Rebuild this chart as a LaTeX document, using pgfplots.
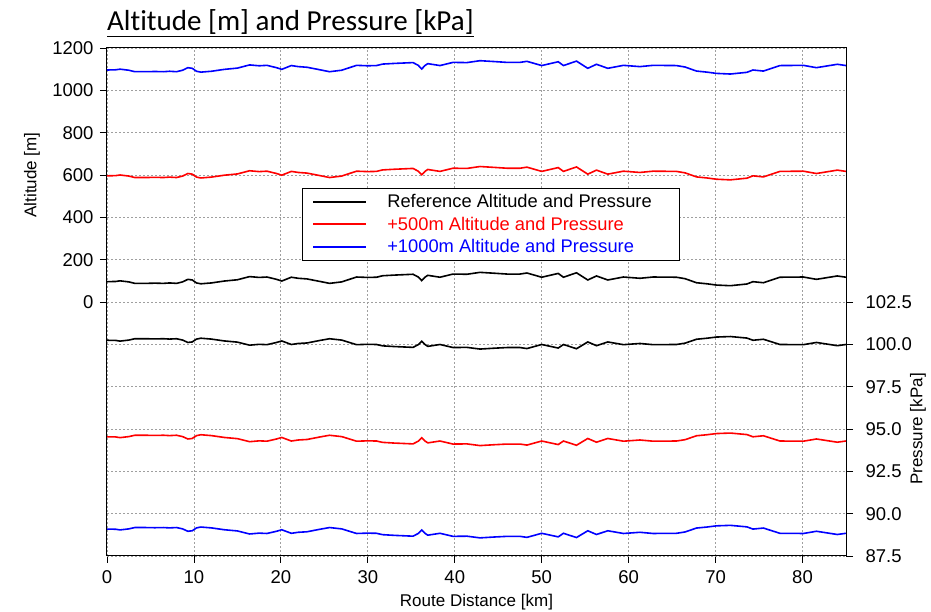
\documentclass[border=0pt]{standalone}
\usepackage{fontspec}
\setmainfont{Liberation Sans}
\newfontfamily\calibri[Ligatures={NoCommon,NoDiscretionary,NoRare,NoContextual}]{Carlito}
\usepackage{pgfplots}
\pgfplotsset{compat=1.18}
\usepackage{pgfplotstable}

\pgfplotstableread{
x h0 h500 h1000 p0 p500 p1000
0 96 596 1096 100.24 94.54 89.09
1 97 597 1097 100.23 94.53 89.08
1.5 100 600 1100 100.19 94.49 89.04
2.5 95 595 1095 100.25 94.55 89.10
3.2 88 588 1088 100.33 94.63 89.18
4.5 88 588 1088 100.33 94.63 89.18
5.5 89 589 1089 100.32 94.62 89.17
6.5 88 588 1088 100.33 94.63 89.18
7.2 90 590 1090 100.31 94.61 89.16
8 88 588 1088 100.33 94.63 89.18
8.7 95 595 1095 100.25 94.55 89.10
9.3 107 607 1107 100.11 94.41 88.96
9.8 104 604 1104 100.14 94.44 88.99
10.3 90 590 1090 100.31 94.61 89.16
10.8 86 586 1086 100.36 94.66 89.21
12 90 590 1090 100.31 94.61 89.16
13.5 99 599 1099 100.20 94.50 89.05
15 105 605 1105 100.13 94.43 88.98
16.4 120 620 1120 99.95 94.25 88.80
17.5 116 616 1116 100.00 94.30 88.85
18.4 118 618 1118 99.98 94.28 88.83
19.5 107 607 1107 100.11 94.41 88.96
20.1 99 599 1099 100.20 94.50 89.05
21.2 117 617 1117 99.99 94.29 88.84
22 112 612 1112 100.05 94.35 88.90
23 109 609 1109 100.08 94.38 88.93
24.5 97 597 1097 100.23 94.53 89.08
25.6 88 588 1088 100.33 94.63 89.18
27 95 595 1095 100.25 94.55 89.10
28.7 118 618 1118 99.98 94.28 88.83
30 116 616 1116 100.00 94.30 88.85
31 117 617 1117 99.99 94.29 88.84
31.7 124 624 1124 99.91 94.21 88.76
33 127 627 1127 99.87 94.17 88.72
35.2 131 631 1131 99.82 94.12 88.67
35.8 118 618 1118 99.98 94.28 88.83
36.2 101 601 1101 100.18 94.48 89.03
36.6 118 618 1118 99.98 94.28 88.83
36.9 126 626 1126 99.88 94.18 88.73
38.3 117 617 1117 99.99 94.29 88.84
39.8 132 632 1132 99.81 94.11 88.66
41.4 131 631 1131 99.82 94.12 88.67
42.9 140 640 1140 99.72 94.02 88.57
44.5 136 636 1136 99.77 94.07 88.62
46 132 632 1132 99.81 94.11 88.66
47.5 132 632 1132 99.81 94.11 88.66
48.3 137 637 1137 99.75 94.05 88.60
50 117 617 1117 99.99 94.29 88.84
51.9 135 635 1135 99.78 94.08 88.63
52.5 117 617 1117 99.99 94.29 88.84
54 138 638 1138 99.74 94.04 88.59
55.3 104 604 1104 100.14 94.44 88.99
56.3 123 623 1123 99.92 94.22 88.77
57.6 104 604 1104 100.14 94.44 88.99
59.4 118 618 1118 99.98 94.28 88.83
61.3 112 612 1112 100.05 94.35 88.90
62.8 118 618 1118 99.98 94.28 88.83
65.5 117 617 1117 99.99 94.29 88.84
66.5 110 610 1110 100.07 94.37 88.92
67.8 91 591 1091 100.30 94.60 89.15
69 86 586 1086 100.36 94.66 89.21
70.1 80 580 1080 100.43 94.73 89.28
71.7 77 577 1077 100.46 94.76 89.31
73.6 85 585 1085 100.37 94.67 89.22
74.3 96 596 1096 100.24 94.54 89.09
75.5 91 591 1091 100.30 94.60 89.15
77.4 117 617 1117 99.99 94.29 88.84
80.1 118 618 1118 99.98 94.28 88.83
81.6 107 607 1107 100.11 94.41 88.96
84 123 623 1123 99.92 94.22 88.77
85 117 617 1117 99.99 94.29 88.84
}\data

\begin{document}
\begin{tikzpicture}[x=1pt,y=1pt]
\useasboundingbox (0,0) rectangle (931,612);
\pgfplotsset{
  common/.style={
    scale only axis, width=739pt, height=508pt,
    at={(107pt,56pt)}, anchor=south west,
    xmin=0, xmax=85,
    tick align=outside, major tick length=7pt,
    tick style={black, line width=0.8pt},
    ticklabel style={font=\fontsize{18.5}{21}\selectfont},
    /pgf/number format/assume math mode=true,
    /pgf/number format/1000 sep={},
    label style={font=\fontsize{17}{20}\selectfont},
    grid style={dash pattern=on 2pt off 2pt, gray!75, line width=0.8pt},
    axis line style={black, line width=1pt},
  }
}
\begin{axis}[common,
  ymin=-1200, ymax=1200,
  ytick={0,200,...,1200},
  xtick={0,10,...,80},
  xtick pos=bottom, ytick pos=left,
  grid=major,
  yticklabel style={xshift=-3pt},
  xticklabel style={yshift=-4pt},
  xlabel={Route Distance [km]}, ylabel={Altitude [m]},
  xlabel style={at={(axis description cs:0.5,-0.0906)}, anchor=center},
  ylabel style={at={(axis description cs:-0.1015,0.75)}, anchor=center},
]
\addplot[black, line width=1.6pt] table[x=x,y=h0]{\data};
\addplot[red, line width=1.6pt] table[x=x,y=h500]{\data};
\addplot[blue, line width=1.6pt] table[x=x,y=h1000]{\data};
\end{axis}
\begin{axis}[common,
  ymin=87.5, ymax=117.5,
  axis y line*=right, axis x line=none,
  ytick={87.5,90,92.5,95,97.5,100,102.5},
  ymajorgrids, xmajorgrids=false,
  yticklabel style={xshift=9pt, /pgf/number format/.cd, fixed, fixed zerofill, precision=1},
  ylabel={Pressure [kPa]},
  ylabel style={at={(axis description cs:1.0974,0.25)}, anchor=center, rotate=0},
  legend style={at={(0.264,0.7244)}, anchor=north west, draw=black,
    font=\fontsize{18.3}{21}\selectfont, inner xsep=10pt, inner ysep=4pt,
    row sep=4pt, column sep=18pt, cells={anchor=west}},
  legend image code/.code={\draw[#1, line width=2pt] (0pt,0pt) -- (53pt,0pt);},
]
\addplot[black, line width=1.6pt] table[x=x,y=p0]{\data};
\addlegendentry{Reference Altitude and Pressure\hspace*{15pt}\mbox{}}
\addplot[red, line width=1.6pt] table[x=x,y=p500]{\data};
\addlegendentry{\textcolor{red}{+500m Altitude and Pressure}}
\addplot[blue, line width=1.6pt] table[x=x,y=p1000]{\data};
\addlegendentry{\textcolor{blue}{+1000m Altitude and Pressure}}
\end{axis}
\node[anchor=base west, inner sep=0pt, font=\calibri\fontsize{29}{33}\selectfont] at (107,581) {\underline{Altitude [m] and Pressure [kPa]}};
\end{tikzpicture}
\end{document}
